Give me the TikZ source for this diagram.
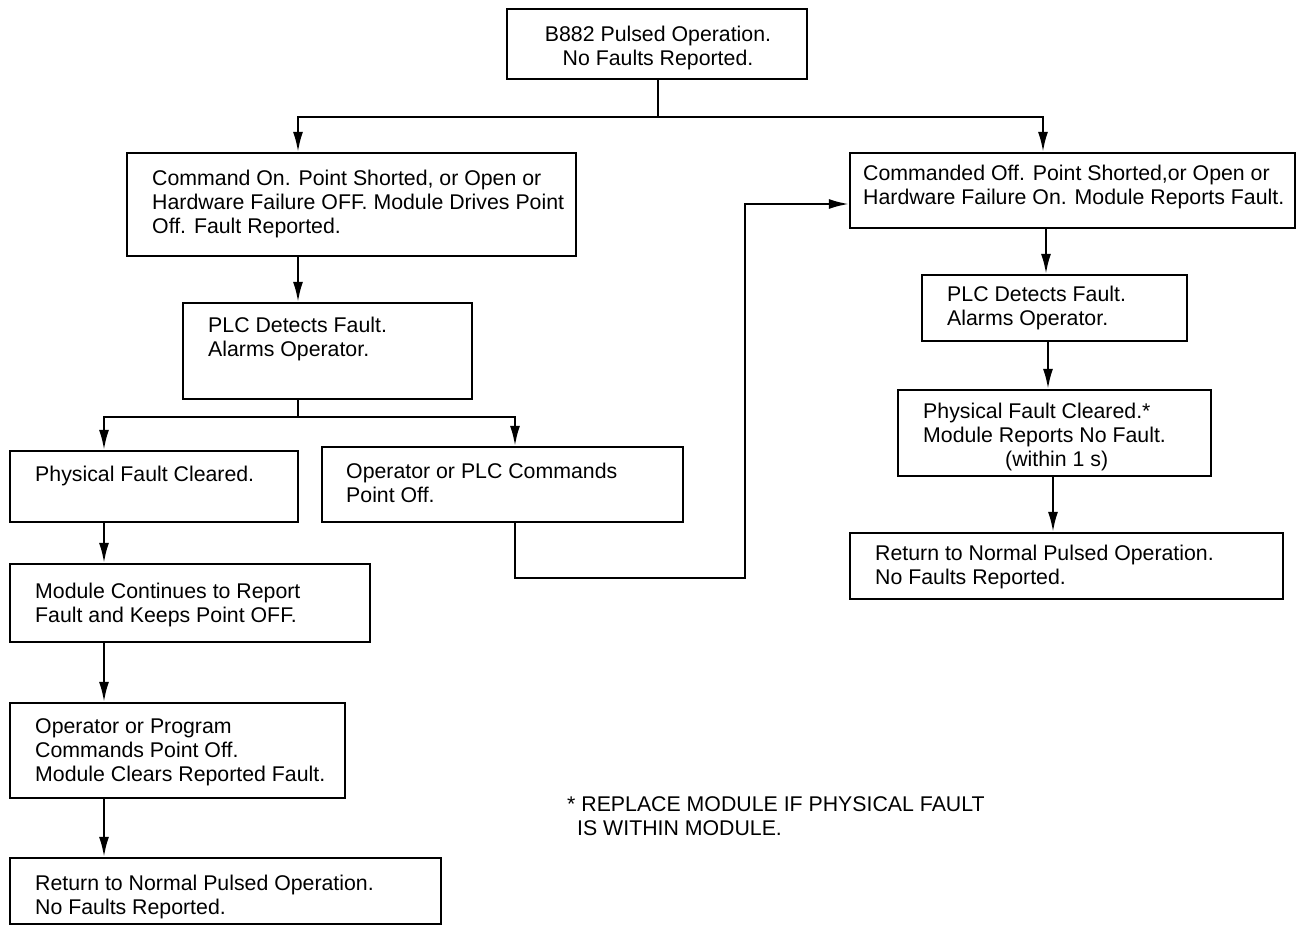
\documentclass[tikz,border=0pt]{standalone}
\usepackage{fontspec}
\setmainfont{Liberation Sans}
\usetikzlibrary{arrows.meta}
\begin{document}
\begin{tikzpicture}[x=1pt,y=-1pt,
  box/.style={draw,line width=2.2pt,rectangle,inner sep=0pt},
  txt/.style={anchor=base west,align=left,inner sep=0pt,font=\fontsize{21.3}{24}\selectfont},
  ctxt/.style={anchor=base,align=center,inner sep=0pt,font=\fontsize{21.3}{24}\selectfont},
  line/.style={line width=2.2pt},
  arr/.style={line width=2.2pt,-{Latex[length=20pt,width=10pt]}}]
\useasboundingbox (0,0) rectangle (1299,929);
% boxes (corner-to-corner)
\newcommand\mkbox[5]{\node[box,minimum width={#4-#2},minimum height={#5-#3}] (#1) at ({(#2+#4)/2},{(#3+#5)/2}) {};}
\mkbox{top}{507}{9}{807}{79}
\mkbox{b2}{127}{153}{576}{256}
\mkbox{b3}{183}{303}{472}{399}
\mkbox{b4}{10}{451}{298}{522}
\mkbox{b5}{322}{447}{683}{522}
\mkbox{b6}{10}{564}{370}{642}
\mkbox{b7}{10}{703}{345}{798}
\mkbox{b8}{10}{858}{441}{924}
\mkbox{b9}{850}{153}{1295}{228}
\mkbox{b10}{922}{275}{1187}{341}
\mkbox{b11}{898}{390}{1211}{476}
\mkbox{b12}{850}{533}{1283}{599}
% texts (anchored at the baseline of the last line)
\node[ctxt] (t1) at (658,65) {B882 Pulsed Operation.\\No Faults Reported.};
\node[txt] (t2) at (152,233) {Command On. Point Shorted, or Open or\\Hardware Failure OFF. Module Drives Point\\Off. Fault Reported.};
\node[txt] (t3) at (208,356) {PLC Detects Fault.\\Alarms Operator.};
\node[txt] (t4) at (35,481) {Physical Fault Cleared.};
\node[txt] (t5) at (346,502) {Operator or PLC Commands\\Point Off.};
\node[txt] (t6) at (35,622) {Module Continues to Report\\Fault and Keeps Point OFF.};
\node[txt] (t7) at (35,781) {Operator or Program\\Commands Point Off.\\Module Clears Reported Fault.};
\node[txt] (t8) at (35,914) {Return to Normal Pulsed Operation.\\No Faults Reported.};
\node[txt] (t9) at (863,204) {Commanded Off. Point Shorted,or Open or\\Hardware Failure On. Module Reports Fault.};
\node[txt] (t10) at (947,325) {PLC Detects Fault.\\Alarms Operator.};
\node[txt] (t11) at (923,466) {Physical Fault Cleared.*\\Module Reports No Fault.\\\hspace*{82pt}(within 1 s)};
\node[txt] (t12) at (875,584) {Return to Normal Pulsed Operation.\\No Faults Reported.};
\node[txt] (note) at (567,835) {* REPLACE MODULE IF PHYSICAL FAULT\\\hspace*{10pt}IS WITHIN MODULE.};
% junction coordinates
\coordinate (j1) at (658,117);
\coordinate (xa) at (298,0);
\coordinate (xb) at (1043,0);
\coordinate (j2) at (298,417);
\coordinate (xc) at (104,0);
\coordinate (xd) at (515,0);
\coordinate (k1) at (515,578);
\coordinate (k2) at (745,204);
\coordinate (xe) at (1046,0);
\coordinate (xf) at (1048,0);
\coordinate (xg) at (1053,0);
% connectors
\draw[line] (top.south -| j1) -- (j1);
\draw[arr] (j1) -| (b2.north -| xa);
\draw[arr] (j1) -| (b9.north -| xb);
\draw[arr] (b2.south -| xa) -- (b3.north -| xa);
\draw[line] (b3.south -| j2) -- (j2);
\draw[arr] (j2) -| (b4.north -| xc);
\draw[arr] (j2) -| (b5.north -| xd);
\draw[arr] (b5.south -| xd) -- (k1) -| (k2) -- (b9.west |- k2);
\draw[arr] (b4.south -| xc) -- (b6.north -| xc);
\draw[arr] (b6.south -| xc) -- (b7.north -| xc);
\draw[arr] (b7.south -| xc) -- (b8.north -| xc);
\draw[arr] (b9.south -| xe) -- (b10.north -| xe);
\draw[arr] (b10.south -| xf) -- (b11.north -| xf);
\draw[arr] (b11.south -| xg) -- (b12.north -| xg);
\end{tikzpicture}
\end{document}
